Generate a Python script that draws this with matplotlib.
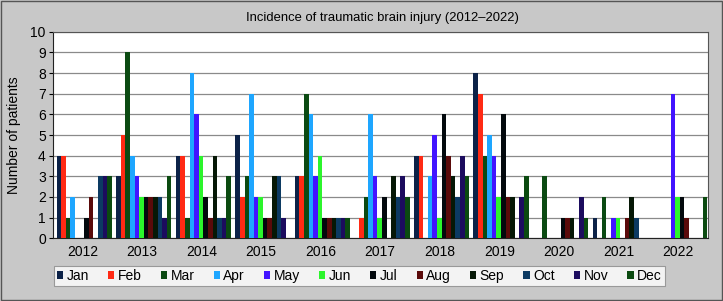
import numpy as np
import matplotlib.pyplot as plt

plt.rcParams['font.family'] = ['Liberation Sans', 'DejaVu Sans']

years = ['2012', '2013', '2014', '2015', '2016', '2017', '2018', '2019', '2020', '2021', '2022']
months = ['Jan', 'Feb', 'Mar', 'Apr', 'May', 'Jun', 'Jul', 'Aug', 'Sep', 'Oct', 'Nov', 'Dec']

# число пациентов по месяцам, одна строка на год
y2012 = [4, 4, 1, 2, 0, 0, 1, 2, 0, 3, 3, 3]
y2013 = [3, 5, 9, 4, 3, 2, 2, 2, 2, 2, 1, 3]
y2014 = [4, 4, 1, 8, 6, 4, 2, 1, 4, 1, 1, 3]
y2015 = [5, 2, 3, 7, 2, 2, 1, 1, 3, 3, 1, 0]
y2016 = [3, 3, 7, 6, 3, 4, 1, 1, 1, 1, 1, 1]
y2017 = [0, 1, 2, 6, 3, 1, 2, 0, 3, 2, 3, 2]
y2018 = [4, 4, 0, 3, 5, 1, 6, 4, 3, 2, 4, 3]
y2019 = [8, 7, 4, 5, 4, 2, 6, 2, 2, 0, 2, 3]
y2020 = [0, 0, 3, 0, 0, 0, 1, 1, 1, 0, 2, 1]
y2021 = [1, 0, 2, 0, 1, 1, 0, 1, 2, 1, 0, 0]
y2022 = [0, 0, 0, 0, 7, 2, 2, 1, 0, 0, 0, 2]

colors = ['#0c2248', '#ff2a14', '#0b4a12', '#1ea6ff', '#4214ff', '#2cf52c',
          '#03090d', '#5a0a0a', '#061806', '#0c3a62', '#1c0c5e', '#0b4a10']

data = np.array([y2012, y2013, y2014, y2015, y2016, y2017, y2018, y2019, y2020, y2021, y2022])

fig = plt.figure(figsize=(7.23, 3.01), dpi=100, facecolor='#c8c8c8')
ax = fig.add_axes([52.7 / 723, 1 - 238.3 / 301, 655 / 723, 206.6 / 301])
ax.set_facecolor('white')

x = np.arange(len(years))
w = 0.0772
for m in range(12):
    ax.bar(x - 6 * w + (m + 0.5) * w + 0.03, data[:, m], width=w, color=colors[m],
           label=months[m], zorder=3, linewidth=0)

ax.set_xlim(-0.5, len(years) - 0.5)
ax.set_ylim(0, 10)
ax.set_yticks(range(11))
ax.set_xticks(x)
ax.set_xticklabels(years)
ax.grid(axis='y', color='#8a8a8a', linewidth=0.9, zorder=0)
ax.tick_params(axis='x', length=0, labelsize=10, pad=5)
ax.tick_params(axis='y', length=3, labelsize=10, pad=2)
for s in ['top', 'right']:
    ax.spines[s].set_color('#555555')
for s in ['left', 'bottom']:
    ax.spines[s].set_color('#222222')
ax.set_ylabel('Number of patients', fontsize=10, labelpad=7)

fig.text(382 / 723, 1 - 18 / 301, 'Incidence of traumatic brain injury (2012\u20132022)',
         ha='center', va='center', fontsize=9.4)

leg = fig.legend(loc='center left', bbox_to_anchor=(54 / 723, 1 - 276 / 301), ncol=12,
                 fontsize=10, frameon=True, fancybox=False, edgecolor='#888888',
                 handlelength=0.45, handleheight=0.45, handletextpad=0.25, columnspacing=1.37,
                 borderpad=0.22, borderaxespad=0)
leg.get_frame().set_linewidth(0.8)

# рамка вокруг всей картинки
fig.patches.append(plt.Rectangle((0.001, 0.002), 0.997, 0.995, transform=fig.transFigure,
                                 fill=False, edgecolor='#555555', linewidth=1))

fig.savefig('out.png', dpi=100, facecolor=fig.get_facecolor())
